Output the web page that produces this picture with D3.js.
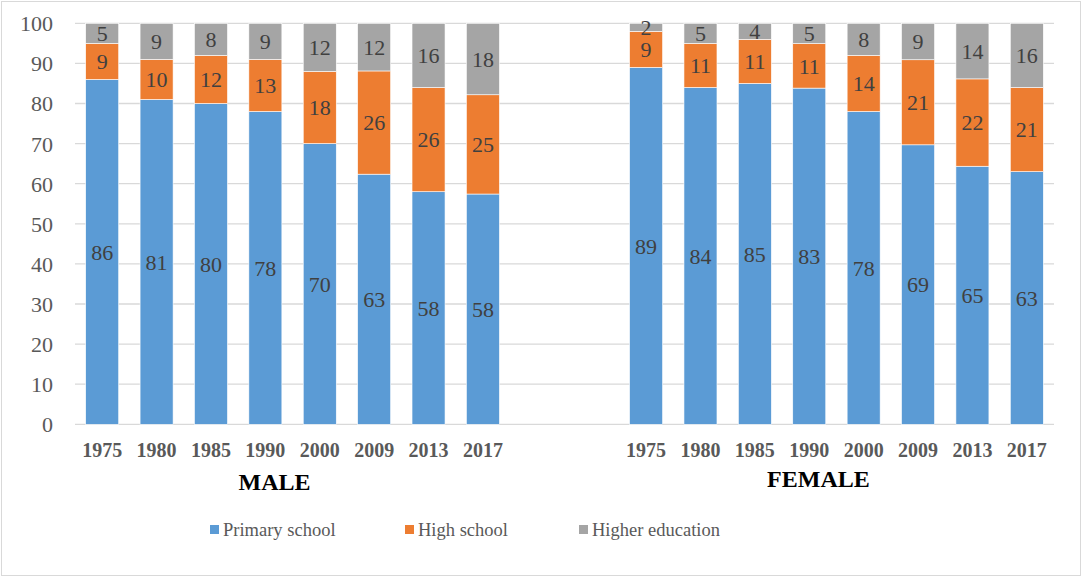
<!DOCTYPE html>
<html>
<head>
<meta charset="utf-8">
<script src="https://cdn.jsdelivr.net/npm/d3@7/dist/d3.min.js"></script>
<style>
  html, body { margin: 0; padding: 0; background: #fff; }
  svg { display: block; font-family: "Liberation Serif", "Times New Roman", Times, serif; }
</style>
</head>
<body>
<svg id="chart" width="1083" height="577"></svg>
<script>
// Education level shares (%) by year, for men and women
const years = [1975, 1980, 1985, 1990, 2000, 2009, 2013, 2017];
const groups = ["MALE", "FEMALE"];
const seriesNames = ["Primary school", "High school", "Higher education"];
const seriesColors = ["#5B9BD5", "#ED7D31", "#A5A5A5"];

const malePrimary = [86, 81, 80, 78, 70, 63, 58, 58];
const maleHigh    = [9, 10, 12, 13, 18, 26, 26, 25];
const maleHigher  = [5, 9, 8, 9, 12, 12, 16, 18];

const femalePrimary = [89, 84, 85, 83, 78, 69, 65, 63];
const femaleHigh    = [9, 11, 11, 11, 14, 21, 22, 21];
const femaleHigher  = [2, 5, 4, 5, 8, 9, 14, 16];

const yTicks = [0, 10, 20, 30, 40, 50, 60, 70, 80, 90, 100];

const SERIF = "Liberation Serif, Times New Roman, Times, serif";

// Rows for the stack: one per bar, plus two empty slots separating the groups
const keys = ["primary", "high", "higher"];
const rows = [];
years.forEach((y, i) => rows.push({ id: "MALE-" + y, year: y, group: "MALE",
  primary: malePrimary[i], high: maleHigh[i], higher: maleHigher[i] }));
rows.push({ id: "gap-1", year: "", group: null, primary: 0, high: 0, higher: 0 });
rows.push({ id: "gap-2", year: "", group: null, primary: 0, high: 0, higher: 0 });
years.forEach((y, i) => rows.push({ id: "FEMALE-" + y, year: y, group: "FEMALE",
  primary: femalePrimary[i], high: femaleHigh[i], higher: femaleHigher[i] }));

const svg = d3.select("#chart");

// Outer chart frame
svg.append("rect")
  .attr("x", 1.5).attr("y", 1.5)
  .attr("width", 1079).attr("height", 574)
  .attr("fill", "#fff").attr("stroke", "#D9D9D9").attr("stroke-width", 1);

const plot = { left: 75, right: 1054, top: 23.3, bottom: 424.3 };

const x = d3.scaleBand()
  .domain(rows.map(d => d.id))
  .range([plot.left, plot.right])
  .paddingInner(0.393)
  .paddingOuter(0.1965);

const y = d3.scaleLinear().domain([0, 100]).range([plot.bottom, plot.top]);

// Gridlines
svg.append("g")
  .selectAll("line")
  .data(yTicks)
  .join("line")
  .attr("x1", plot.left).attr("x2", plot.right)
  .attr("y1", d => y(d)).attr("y2", d => y(d))
  .attr("stroke", "#D9D9D9").attr("stroke-width", 1.3);

// Y axis labels
const yAxis = d3.axisLeft(y).tickValues(yTicks).tickSize(0).tickPadding(0);
const yg = svg.append("g").attr("transform", `translate(${53},0)`).call(yAxis);
yg.attr("font-family", SERIF);
yg.select(".domain").remove();
yg.selectAll("text")
  .attr("font-size", 22).attr("fill", "#595959").attr("dy", "0.34em");

// Stacked bars, each stack normalized to 100%
const barRows = rows.filter(d => d.group);
const stacked = d3.stack().keys(keys).offset(d3.stackOffsetExpand)(barRows);

const layers = svg.append("g")
  .selectAll("g")
  .data(stacked)
  .join("g")
  .attr("fill", (d, i) => seriesColors[i]);

layers.selectAll("rect")
  .data(d => d.map(p => ({ p, key: d.key })))
  .join("rect")
  .attr("x", d => x(d.p.data.id))
  .attr("width", x.bandwidth())
  .attr("y", d => y(d.p[1] * 100))
  .attr("height", d => y(d.p[0] * 100) - y(d.p[1] * 100))
  .attr("stroke", "#fff").attr("stroke-width", 0.6);

// Value labels centered in each segment
layers.selectAll("text")
  .data(d => d.map(p => ({ p, key: d.key })))
  .join("text")
  .attr("x", d => x(d.p.data.id) + x.bandwidth() / 2)
  .attr("y", d => y((d.p[0] + d.p[1]) / 2 * 100))
  .attr("dy", "0.35em")
  .attr("text-anchor", "middle")
  .attr("font-family", SERIF)
  .attr("font-size", 22)
  .attr("fill", "#404040")
  .text(d => d.p.data[d.key]);

// X axis: years under each bar
const xAxis = d3.axisBottom(x).tickSize(0).tickPadding(0)
  .tickFormat(id => rows.find(r => r.id === id).year);
const xg = svg.append("g").attr("transform", `translate(0,${457})`).call(xAxis);
xg.attr("font-family", SERIF);
xg.select(".domain").remove();
xg.selectAll("text")
  .attr("font-size", 20).attr("font-weight", "bold").attr("fill", "#595959")
  .attr("dy", 0);

// Group titles
const groupCenter = g => {
  const ids = rows.filter(r => r.group === g).map(r => r.id);
  return (x(ids[0]) + x(ids[ids.length - 1]) + x.bandwidth()) / 2;
};
svg.append("g")
  .selectAll("text")
  .data(groups)
  .join("text")
  .attr("x", g => groupCenter(g) - 18)
  .attr("y", (g, i) => i === 0 ? 490 : 487)
  .attr("text-anchor", "middle")
  .attr("font-family", SERIF)
  .attr("font-size", 24).attr("font-weight", "bold").attr("fill", "#000")
  .text(g => g);

// Legend
const legendX = [210, 405, 579];
const legend = svg.append("g")
  .selectAll("g")
  .data(seriesNames)
  .join("g")
  .attr("transform", (d, i) => `translate(${legendX[i]},${525})`);
legend.append("rect")
  .attr("width", 9).attr("height", 9)
  .attr("fill", (d, i) => seriesColors[i]);
legend.append("text")
  .attr("x", 13).attr("y", 4.5).attr("dy", "0.35em")
  .attr("font-family", SERIF)
  .attr("font-size", 18.5).attr("fill", "#595959")
  .text(d => d);
</script>
</body>
</html>
